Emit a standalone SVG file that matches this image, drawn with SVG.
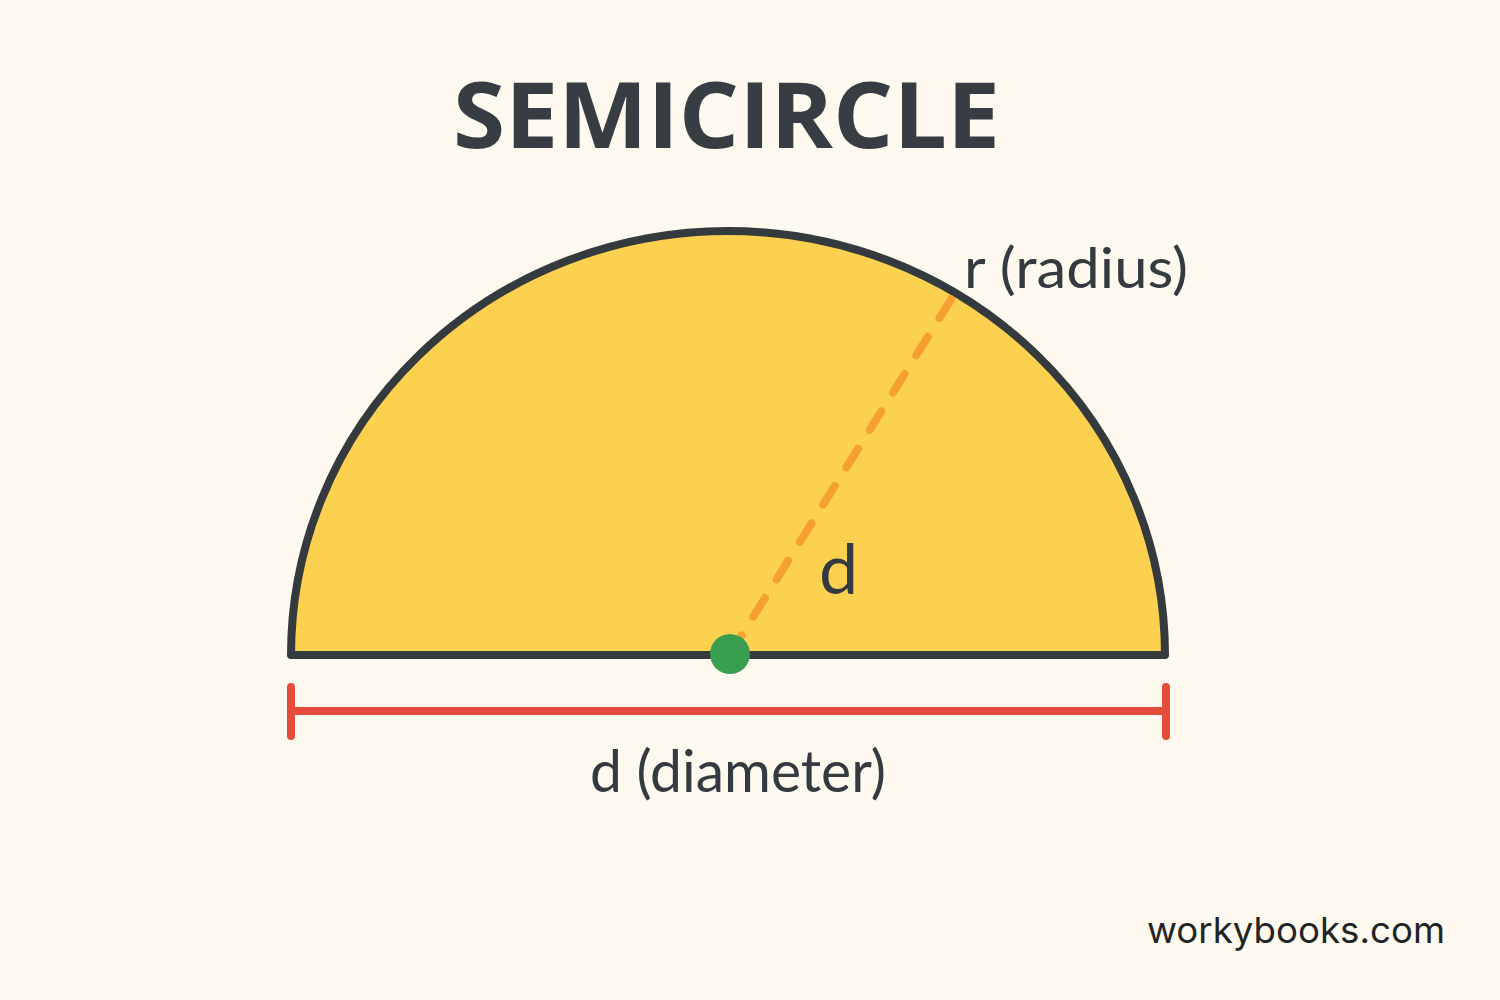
<svg xmlns="http://www.w3.org/2000/svg" width="1500" height="1000" viewBox="0 0 1500 1000">
  <style>
    .lbl { font-family: "Lato", "Open Sans", "Liberation Sans", sans-serif; fill: #343A3F; }
    .title { font-family: "Open Sans", "Liberation Sans", sans-serif; font-weight: 700; fill: #373D42; }
    .brand { font-family: "Inter", "Liberation Sans", sans-serif; fill: #222527; }
  </style>
  <rect x="0" y="0" width="1500" height="1000" fill="#FDF9EE"/>

  <text class="title" x="453" y="148" font-size="92" textLength="547" lengthAdjust="spacingAndGlyphs">SEMICIRCLE</text>

  <g id="semicircle">
    <path d="M 291 655 A 437 424 0 0 1 1165 655 Z" fill="#FDD150" stroke="#343A3D" stroke-width="8" stroke-linejoin="round"/>
  </g>

  <g id="connectors">
    <line x1="730" y1="654" x2="952" y2="298" stroke="#F5A031" stroke-width="8" stroke-linecap="round" stroke-dasharray="22 22"/>
    <g id="diameter-bar" stroke="#E64C3C" stroke-width="8" stroke-linecap="round">
      <line x1="291" y1="711" x2="1166" y2="711"/>
      <line x1="291" y1="687" x2="291" y2="736"/>
      <line x1="1166" y1="687" x2="1166" y2="736"/>
    </g>
  </g>

  <g id="center">
    <circle cx="730" cy="654" r="20" fill="#3A9E50"/>
  </g>

  <g id="labels">
    <text class="lbl" x="819" y="594" font-size="70">d</text>
    <text class="lbl" x="964" y="288" font-size="56" textLength="224" lengthAdjust="spacingAndGlyphs">r (radius)</text>
    <text class="lbl" x="590" y="792" font-size="58" textLength="296" lengthAdjust="spacingAndGlyphs">d (diameter)</text>
    <text class="brand" x="1147" y="943" font-size="36" textLength="298" lengthAdjust="spacingAndGlyphs">workybooks.com</text>
  </g>
</svg>
